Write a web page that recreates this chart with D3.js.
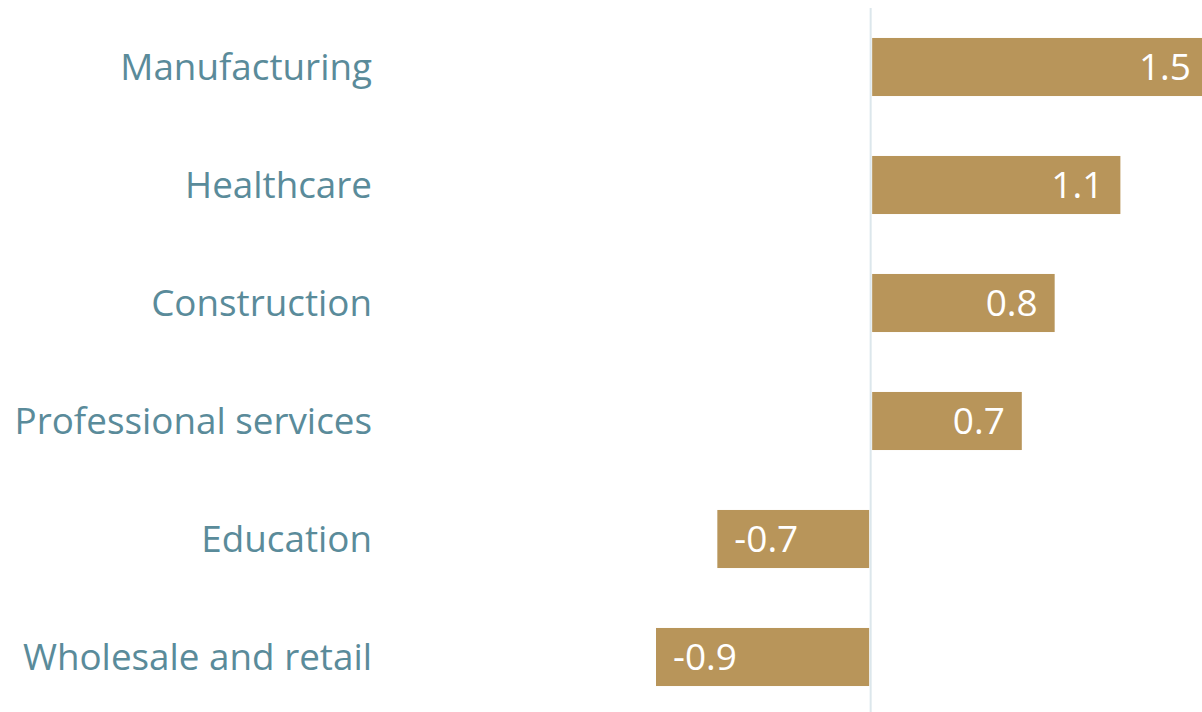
<!DOCTYPE html>
<html>
<head>
<meta charset="utf-8">
<script src="https://cdn.jsdelivr.net/npm/d3@7"></script>
<style>
  body { margin: 0; background: #fff; }
  #chart { width: 1202px; height: 712px; overflow: hidden; }
</style>
</head>
<body>
<div id="chart"></div>
<script>
const categories = ["Manufacturing", "Healthcare", "Construction", "Professional services", "Education", "Wholesale and retail"];
const values = [1.54, 1.14, 0.84, 0.69, -0.70, -0.98];
const valueLabels = ["1.5", "1.1", "0.8", "0.7", "-0.7", "-0.9"];

const width = 1202, height = 712;
const svg = d3.select("#chart").append("svg")
  .attr("width", width)
  .attr("height", height);

const x = d3.scaleLinear()
  .domain([d3.min(values), d3.max(values)])
  .range([656, 1208]);

const y = d3.scaleBand()
  .domain(categories)
  .range([8, 716])
  .paddingInner(0.508)
  .paddingOuter(0.254);

// bars
svg.selectAll("rect.bar")
  .data(values)
  .enter()
  .append("rect")
    .attr("class", "bar")
    .attr("x", d => d >= 0 ? x(0) + 1.5 : x(d))
    .attr("width", d => Math.abs(x(d) - x(0)) - 1.5)
    .attr("y", (d, i) => y(categories[i]))
    .attr("height", y.bandwidth())
    .attr("fill", "#b8955a");

// zero line
svg.append("line")
  .attr("x1", x(0)).attr("x2", x(0))
  .attr("y1", 8).attr("y2", height)
  .attr("stroke", "#dce7ec")
  .attr("stroke-width", 2);

// category labels
svg.selectAll("text.cat")
  .data(categories)
  .enter()
  .append("text")
    .attr("class", "cat")
    .attr("x", 372)
    .attr("y", d => y(d) + y.bandwidth() / 2)
    .attr("dy", "0.35em")
    .attr("text-anchor", "end")
    .style("font-family", "'Open Sans', sans-serif")
    .style("font-size", "36.8px")
    .style("fill", "#5a8b9a")
    .text(d => d);

// value labels
svg.selectAll("text.val")
  .data(values)
  .enter()
  .append("text")
    .attr("class", "val")
    .attr("x", d => d >= 0 ? x(d) - 17 : x(d) + 17)
    .attr("y", (d, i) => y(categories[i]) + y.bandwidth() / 2)
    .attr("dy", "0.35em")
    .attr("text-anchor", d => d >= 0 ? "end" : "start")
    .style("font-family", "'Open Sans', sans-serif")
    .style("font-size", "37px")
    .style("fill", "#ffffff")
    .text((d, i) => valueLabels[i]);
</script>
</body>
</html>
